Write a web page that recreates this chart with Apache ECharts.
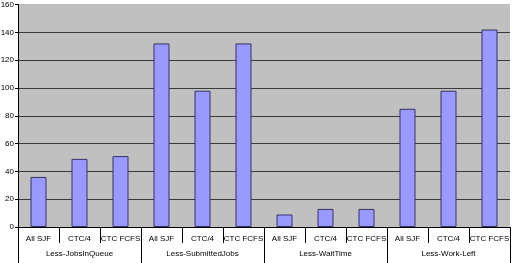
<!DOCTYPE html>
<html>
<head>
<meta charset="utf-8">
<script src="https://cdn.jsdelivr.net/npm/echarts@6/dist/echarts.min.js"></script>
<style>
  html, body {margin: 0; padding: 0; background: #fff;}
  #chart {width: 513px; height: 263px;}
</style>
</head>
<body>
<div id="chart"></div>
<script>
const categories = ['All SJF', 'CTC/4', 'CTC FCFS', 'All SJF', 'CTC/4', 'CTC FCFS',
  'All SJF', 'CTC/4', 'CTC FCFS', 'All SJF', 'CTC/4', 'CTC FCFS']
const groups = ['Less-JobsInQueue', 'Less-SubmittedJobs', 'Less-WaitTime', 'Less-Work-Left']
const values = [36, 49, 51, 132, 98, 132, 9, 13, 13, 85, 98, 142]
const yTicks = [0, 20, 40, 60, 80, 100, 120, 140, 160]

let myChart = echarts.init(document.getElementById('chart'))

const font = 'Liberation Sans'

// 160 的网格线不画（与背景同色）
let gridColors = yTicks.map((v, i) => i === yTicks.length - 1 ? '#c0c0c0' : '#3a3a3a')

let option = {
  animation: false,
  textStyle: {fontFamily: font},
  grid: {
    left: 18,
    right: 3,
    top: 4.5,
    bottom: 36,
    containLabel: false,
    outerBoundsMode: 'none',
    show: true,
    backgroundColor: '#c0c0c0',
    borderWidth: 0
  },
  xAxis: [
    {
      type: 'category',
      data: categories,
      axisLine: {lineStyle: {color: '#000', width: 1}},
      axisTick: {show: true, interval: 0, length: 16, lineStyle: {color: '#000'}},
      axisLabel: {interval: 0, margin: 8, fontSize: 8, color: '#000', fontFamily: font}
    },
    {
      type: 'category',
      data: groups,
      position: 'bottom',
      axisLine: {show: false},
      axisTick: {show: true, interval: 0, length: 36, lineStyle: {color: '#000'}},
      axisLabel: {interval: 0, margin: 23, fontSize: 8, color: '#000', fontFamily: font}
    }
  ],
  yAxis: {
    type: 'value',
    min: 0,
    max: 160,
    interval: 20,
    axisLine: {show: true, lineStyle: {color: '#000'}},
    axisTick: {show: true, length: 3, lineStyle: {color: '#000'}},
    axisLabel: {margin: 4, fontSize: 8, color: '#000', fontFamily: font},
    splitLine: {lineStyle: {color: gridColors, width: 1}}
  },
  series: [
    {
      type: 'bar',
      data: values,
      xAxisIndex: 0,
      barWidth: 16,
      itemStyle: {color: '#9999ff', borderColor: '#333366', borderWidth: 1}
    }
  ]
}
myChart.setOption(option)
</script>
</body>
</html>
